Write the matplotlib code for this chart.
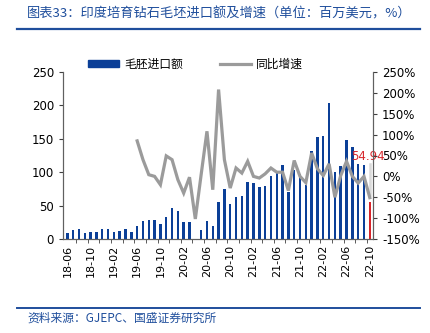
import numpy as np
import matplotlib
matplotlib.use("Agg")
import matplotlib.pyplot as plt
from matplotlib.patches import Patch
from matplotlib.lines import Line2D

plt.rcParams['font.family'] = ['DejaVu Sans', 'Noto Sans CJK SC']

# monthly labels 2018-06 .. 2022-10
months = ['%02d-%02d' % (18 + (5 + i) // 12, (5 + i) % 12 + 1) for i in range(53)]

# rough diamond import value (USD mn)
imports = [8.9, 13.4, 14.4, 9.4, 10.9, 9.9, 14.9, 14.9, 9.9, 12.4,
           14.9, 10.9, 19.3, 26.7, 27.7, 28.2, 22.8, 33.2, 46.0, 42.6,
           25.7, 25.2, 0.0, 13.4, 27.2, 18.8, 55.4, 74.4, 52.4, 62.4,
           64.4, 85.8, 83.3, 78.3, 79.8, 94.3, 102.3, 110.3, 70.9, 103.3,
           96.8, 81.3, 131.7, 153.2, 154.7, 203.1, 100.3, 109.3, 148.2, 137.7,
           112.8, 110.3, 54.94]

# YoY growth (%), starts at 19-06
yoy = [None] * 12 + [85, 40, 4, 0, -20, 49, 40, -8, -40, -2,
                     -102, 4, 108, -32, 208, 40, -28, 20, 8, 36,
                     0, -4, 6, 20, 10, 10, -34, 38, 0, -15,
                     56, 18, 2, 30, -50, 2, 36, 0, -16, 0, -51]

blue = '#0b3f97'
gray = '#9b9b9b'
red = '#d7262b'
title_blue = '#1f4e9c'

fig = plt.figure(figsize=(4.3, 3.33), dpi=100)
ax = fig.add_axes([63 / 430, 1 - 239 / 333, 310 / 430, 167 / 333])
ax2 = ax.twinx()

x = np.arange(len(imports))
colors = [blue] * (len(imports) - 1) + [red]
ax.bar(x, imports, width=0.42, color=colors, zorder=2)

yx = [i for i, v in enumerate(yoy) if v is not None]
yv = [v for v in yoy if v is not None]
ax2.plot(yx, yv, color=gray, lw=2.3, solid_joinstyle='miter', zorder=3)

# label on the last bar
ax.annotate('%.2f' % imports[-1], xy=(x[-1], imports[-1]), xytext=(-1, 33),
            textcoords='offset points', ha='center', va='center',
            color=red, fontsize=8.5, zorder=5, annotation_clip=False)
ax2.plot([x[-1], x[-1]], [30, -45], color='#d9d9d9', lw=1.8, zorder=1)

ax.set_xlim(-0.75, 52.55)
ax.set_ylim(0, 250)
ax.set_yticks(range(0, 251, 50))
ax2.set_ylim(-150, 250)
ax2.set_yticks(range(-150, 251, 50))
ax2.set_yticklabels(['%d%%' % v for v in range(-150, 251, 50)])

ax.set_xticks(x[::4])
ax.set_xticklabels(months[::4], rotation=90)
ax.set_xticks(np.arange(1.5, 53, 2), minor=True)
ax.tick_params(axis='x', which='major', length=0, pad=4, labelsize=8)
ax.tick_params(axis='x', which='minor', length=3, color='#404040')
ax.tick_params(axis='y', length=3, labelsize=8.5, color='#404040')
ax2.tick_params(axis='y', length=3, labelsize=8.5, color='#404040')

for a in (ax, ax2):
    a.spines['top'].set_visible(False)
    for s in ('left', 'right', 'bottom'):
        a.spines[s].set_color('#606060')

# legend
handles = [Patch(color=blue), Line2D([0], [0], color=gray, lw=2.3)]
fig.legend(handles, ['毛胚进口额', '同比增速'], loc='center', ncol=2,
           bbox_to_anchor=(0.455, 1 - 64 / 333), frameon=False,
           prop={'family': 'Noto Sans CJK SC', 'size': 8.5},
           handlelength=2.6, handleheight=0.6, columnspacing=3.2, handletextpad=0.4)

# header / footer
fig.text(27 / 430, 1 - 14 / 333, '图表33：印度培育钻石毛坯进口额及增速（单位：百万美元，%）',
         family='Noto Sans CJK SC', style='italic', fontsize=9.5,
         color=title_blue, va='center', ha='left')
fig.add_artist(Line2D([17 / 430, 420 / 430], [1 - 29 / 333] * 2, color=title_blue, lw=1.6))
fig.add_artist(Line2D([17 / 430, 420 / 430], [1 - 308 / 333] * 2, color=title_blue, lw=1.4))
fig.text(27 / 430, 1 - 318 / 333, '资料来源：GJEPC、国盛证券研究所',
         family='Noto Sans CJK SC', style='italic', fontsize=8.5,
         color=title_blue, va='center', ha='left')

fig.savefig('out.png', dpi=100)
